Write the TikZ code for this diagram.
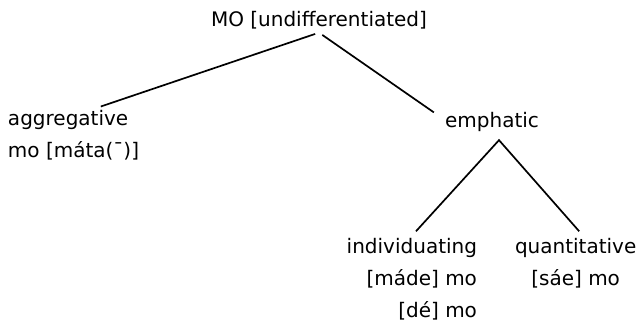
\documentclass[tikz,border=0pt]{standalone}
\usepackage{fontspec}
\setmainfont{DejaVu Sans}
\usepackage{tikz}
\usetikzlibrary{positioning, calc}
\tikzset{
  treelabel/.style={
    font=\fontsize{10}{16}\selectfont,
    inner sep=1.5pt,
    outer sep=0pt
  },
  treebranch/.style={
    line width=0.85pt,
    shorten >=2pt,
    shorten <=2pt
  }
}

\begin{document}
\begin{tikzpicture}[x=0.5pt, y=-0.5pt]
  \useasboundingbox (0,0) rectangle (642,325);

  \node[treelabel, anchor=base] (mo) at (319,27)
    {MO [undifferentiated]};
  \node[treelabel, anchor=base west, align=left] (agg) at (5,158)
    {aggregative\\mo [máta(¯)]};
  \node[treelabel, anchor=base] (emph) at (492,128)
    {emphatic};
  \node[treelabel, anchor=base east, align=right] (indiv) at (480,318)
    {individuating\\{}[máde] mo\\{}[dé] mo};
  \node[treelabel, align=center, right=16pt of indiv.north east, anchor=north west] (quant)
    {quantitative\\{}[sáe] mo};
  \coordinate (fork) at ([xshift=3.5pt, yshift=-2.5pt]emph.south);

  \draw[treebranch] (mo.south) -- (agg.50);
  \draw[treebranch, shorten >=5pt] (mo.south) -- (emph.175);
  \draw[treebranch, shorten >=3pt, shorten <=3pt] (indiv.north) -- (fork) -- (quant.75);
\end{tikzpicture}
\end{document}
